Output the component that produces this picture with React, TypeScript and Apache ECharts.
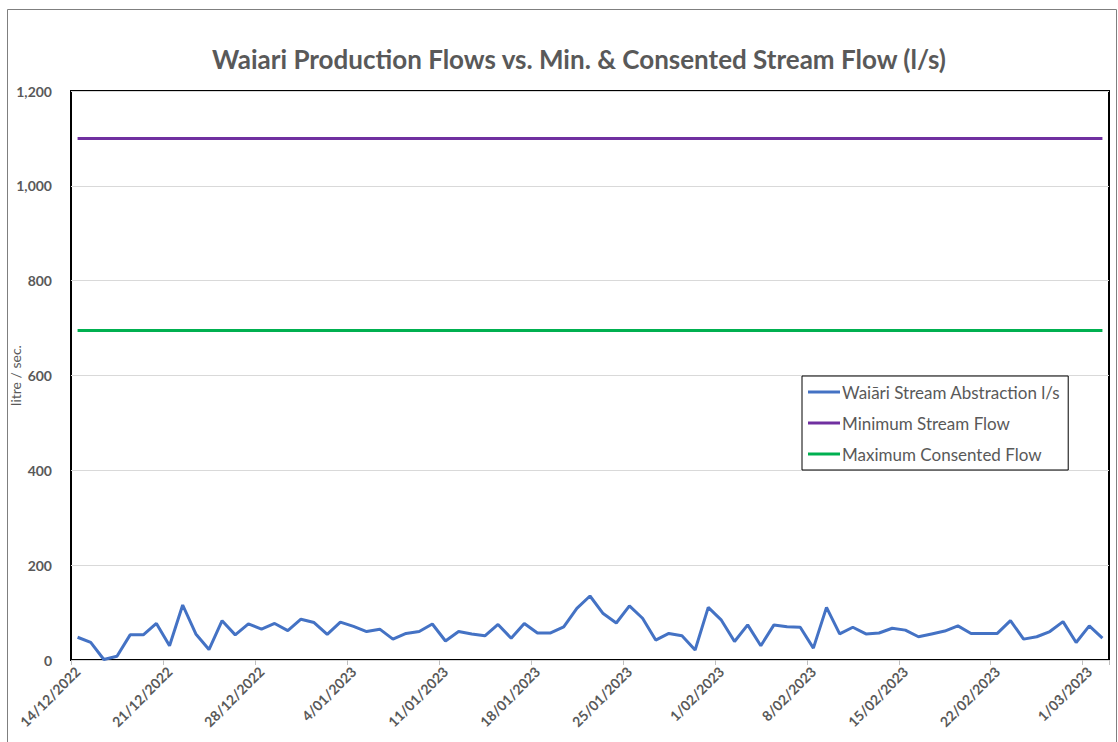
import React, { useEffect, useRef } from "react";
import * as echarts from "echarts";

const TITLE = "Waiari Production Flows vs. Min. & Consented Stream Flow (l/s)";
const Y_NAME = "litre / sec.";

const dates: string[] = [
  "14/12/2022", "15/12/2022", "16/12/2022", "17/12/2022", "18/12/2022", "19/12/2022", "20/12/2022",
  "21/12/2022", "22/12/2022", "23/12/2022", "24/12/2022", "25/12/2022", "26/12/2022", "27/12/2022",
  "28/12/2022", "29/12/2022", "30/12/2022", "31/12/2022", "1/01/2023", "2/01/2023", "3/01/2023",
  "4/01/2023", "5/01/2023", "6/01/2023", "7/01/2023", "8/01/2023", "9/01/2023", "10/01/2023",
  "11/01/2023", "12/01/2023", "13/01/2023", "14/01/2023", "15/01/2023", "16/01/2023", "17/01/2023",
  "18/01/2023", "19/01/2023", "20/01/2023", "21/01/2023", "22/01/2023", "23/01/2023", "24/01/2023",
  "25/01/2023", "26/01/2023", "27/01/2023", "28/01/2023", "29/01/2023", "30/01/2023", "31/01/2023",
  "1/02/2023", "2/02/2023", "3/02/2023", "4/02/2023", "5/02/2023", "6/02/2023", "7/02/2023",
  "8/02/2023", "9/02/2023", "10/02/2023", "11/02/2023", "12/02/2023", "13/02/2023", "14/02/2023",
  "15/02/2023", "16/02/2023", "17/02/2023", "18/02/2023", "19/02/2023", "20/02/2023", "21/02/2023",
  "22/02/2023", "23/02/2023", "24/02/2023", "25/02/2023", "26/02/2023", "27/02/2023", "28/02/2023",
  "1/03/2023", "2/03/2023",
];

const abstraction: number[] = [
  48, 37, 1, 8, 53, 53, 77,
  30, 116, 55, 22, 83, 53, 76,
  65, 77, 62, 86, 79, 54, 80,
  71, 60, 65, 44, 56, 60, 76,
  40, 60, 55, 51, 75, 46, 77,
  57, 57, 70, 109, 135, 98, 78,
  114, 88, 42, 56, 51, 21, 111,
  84, 39, 74, 30, 74, 70, 69,
  25, 111, 55, 69, 55, 57, 67,
  63, 49, 55, 61, 72, 56, 56,
  56, 83, 44, 49, 60, 81, 37,
  72, 46,
];

const MIN_STREAM_FLOW = 1100;
const MAX_CONSENTED_FLOW = 695;

const seriesNames = [
  "Waiāri Stream Abstraction l/s",
  "Minimum Stream Flow",
  "Maximum Consented Flow",
];
const seriesColors = ["#4472C4", "#7030A0", "#00B050"];

const yTicks = { min: 0, max: 1200, interval: 200 };

const FONT = "Lato, 'Noto Sans', sans-serif";
const GREY = "#595959";

export default function App() {
  const ref = useRef<HTMLDivElement>(null);

  useEffect(() => {
    if (!ref.current) return;
    const chart = echarts.init(ref.current, undefined, { renderer: "svg" });
    const minLine = dates.map(() => MIN_STREAM_FLOW);
    const maxLine = dates.map(() => MAX_CONSENTED_FLOW);
    const datas = [abstraction, minLine, maxLine];

    chart.setOption({
      animation: false,
      backgroundColor: "#ffffff",
      textStyle: { fontFamily: FONT },
      title: {
        text: TITLE,
        left: 574,
        top: 41,
        textAlign: "center",
        textStyle: { fontFamily: FONT, fontSize: 26, fontWeight: "bold", color: GREY },
      },
      graphic: [
        {
          type: "rect",
          shape: { x: 7.5, y: 9.5, width: 1109, height: 745 },
          style: { fill: "none", stroke: "#7f7f7f", lineWidth: 1 },
          silent: true,
        },
      ],
      grid: {
        left: 71,
        right: 9,
        top: 91,
        bottom: 82,
        show: true,
        borderColor: "#000000",
        borderWidth: 2,
        containLabel: false,
        outerBoundsMode: "none",
      },
      legend: {
        orient: "vertical",
        left: 802,
        top: 376,
        padding: [6, 8, 6, 6],
        itemGap: 11,
        itemWidth: 32,
        itemHeight: 3,
        icon: "rect",
        borderColor: "#000000",
        borderWidth: 1,
        backgroundColor: "#ffffff",
        textStyle: { fontFamily: FONT, fontSize: 17, color: GREY, lineHeight: 20, padding: [0, 0, 0, -3] },
        data: seriesNames,
      },
      xAxis: {
        type: "category",
        data: dates,
        boundaryGap: true,
        axisLine: { show: false },
        axisTick: {
          show: true,
          interval: 6,
          alignWithLabel: false,
          length: 5,
          lineStyle: { color: "#bfbfbf" },
        },
        axisLabel: {
          interval: 6,
          rotate: 45,
          margin: 9,
          fontFamily: FONT,
          fontSize: 14,
          fontWeight: "bold",
          color: GREY,
        },
        splitLine: { show: false },
      },
      yAxis: {
        type: "value",
        min: yTicks.min,
        max: yTicks.max,
        interval: yTicks.interval,
        name: Y_NAME,
        nameLocation: "middle",
        nameGap: 49,
        nameMoveOverlap: false,
        nameTextStyle: { fontFamily: FONT, fontSize: 14, color: GREY },
        axisLine: { show: false },
        axisTick: { show: false },
        axisLabel: {
          margin: 19,
          fontFamily: FONT,
          fontSize: 14,
          fontWeight: "bold",
          color: GREY,
          formatter: (v: number) => v.toLocaleString("en-US"),
        },
        splitLine: { lineStyle: { color: "#d9d9d9", width: 1 } },
      },
      series: seriesNames.map((name, i) => ({
        name,
        type: "line",
        data: datas[i],
        showSymbol: false,
        symbol: "none",
        lineStyle: { color: seriesColors[i], width: 3 },
        itemStyle: { color: seriesColors[i] },
        z: 3 - i,
      })),
    });

    return () => chart.dispose();
  }, []);

  return (
    <div
      ref={ref}
      style={{ position: "fixed", left: 0, top: 0, width: 1118, height: 742 }}
    />
  );
}
